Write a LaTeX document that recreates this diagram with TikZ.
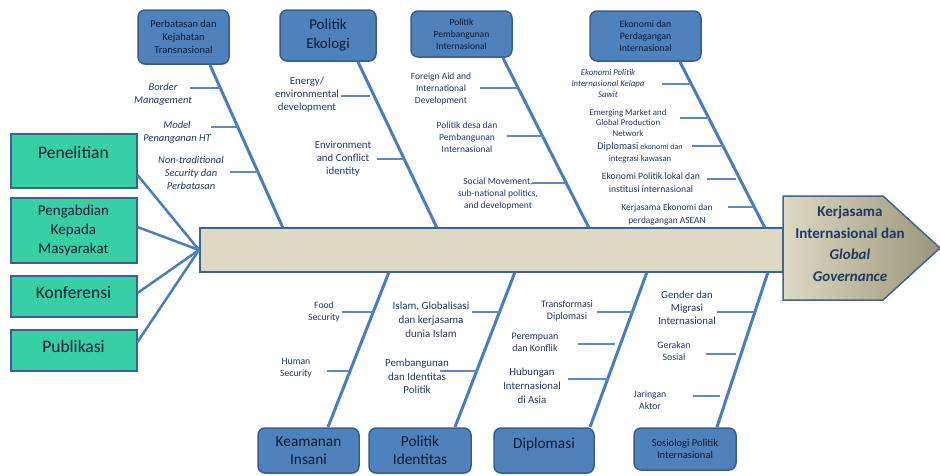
\documentclass[tikz,border=0pt]{standalone}
\usepackage{fontspec}
\setmainfont{Carlito}
\definecolor{navy}{HTML}{1F3864}
\definecolor{boxblue}{HTML}{4F81BD}
\definecolor{boxedge}{HTML}{385D8A}
\definecolor{bonecol}{HTML}{4A7EBB}
\definecolor{tickcol}{HTML}{5A8AC6}
\definecolor{mint}{HTML}{36D0A4}
\definecolor{mintedge}{HTML}{3F5F99}
\definecolor{spinefill}{HTML}{DDD9C3}
\definecolor{spineedge}{HTML}{3E6497}
\definecolor{headdark}{HTML}{9A9679}
\definecolor{boxtext}{HTML}{0F1B33}
\newcommand{\fs}[2]{\fontsize{#1}{#2}\selectfont}
\begin{document}
\begin{tikzpicture}[x=1pt,y=-1pt,
  bbox/.style={draw=boxedge, line width=1.5pt, fill=boxblue, rounded corners=7pt, inner sep=0pt, align=center, text=boxtext},
  gbox/.style={draw=mintedge, line width=2pt, fill=mint, inner sep=0pt},
  gtext/.style={text=boxtext, align=center, inner sep=0pt},
  bonel/.style={draw=bonecol, line width=3pt},
  tickl/.style={draw=tickcol, line width=1.4pt},
  conn/.style={draw=bonecol, line width=2.5pt},
  lbl/.style={text=navy, align=center, inner sep=0pt},
  spinest/.style={draw=spineedge, line width=2pt, fill=spinefill, inner sep=0pt}
]
\useasboundingbox (0,0) rectangle (940,475);

% ---------- top boxes ----------
\node[bbox, minimum width=91, minimum height=54, font=\fs{10.5}{13}] (tb1) at (183.5,37) {Perbatasan dan\\Kejahatan\\Transnasional};
\node[bbox, minimum width=96, minimum height=51, font=\fs{15}{19}] (tb2) at (328,35.5) {Politik\\Ekologi};
\node[bbox, minimum width=101, minimum height=46, font=\fs{9.5}{12}] (tb3) at (461.5,34) {Politik\\Pembangunan\\Internasional};
\node[bbox, minimum width=111, minimum height=50, font=\fs{9.8}{12.3}] (tb4) at (645.5,36) {Ekonomi dan\\Perdagangan\\Internasional};

% ---------- bottom boxes ----------
\node[bbox, minimum width=101, minimum height=45, font=\fs{15.3}{18}] (bb1) at (308.5,450.5) {Keamanan\\Insani};
\node[bbox, minimum width=102, minimum height=45, font=\fs{15.3}{18}] (bb2) at (420,450.5) {Politik\\Identitas};
\node[bbox, minimum width=100, minimum height=45] (bb3) at (544,450.5) {};
\node[gtext, font=\fs{15.3}{18}] (bb3t) at (544,444) {Diplomasi};
\node[bbox, minimum width=102, minimum height=42, font=\fs{10.5}{12.5}] (bb4) at (685,449) {Sosiologi Politik\\Internasional};

% ---------- bone coordinates ----------
\coordinate (b1s) at (210,65);  \coordinate (b1e) at (283,228);
\coordinate (b2s) at (358,62);  \coordinate (b2e) at (437,228);
\coordinate (b3s) at (503,58);  \coordinate (b3e) at (589,228);
\coordinate (b4s) at (680,62);  \coordinate (b4e) at (765,228);
\coordinate (bAs) at (328,427); \coordinate (bAe) at (389,272);
\coordinate (bBs) at (455,427); \coordinate (bBe) at (515,272);
\coordinate (bCs) at (590,427); \coordinate (bCe) at (647,272);
\coordinate (bDs) at (717,427); \coordinate (bDe) at (768,272);

\foreach \b in {1,2,3,4,A,B,C,D} {\draw[bonel] (b\b s) -- (b\b e);}

% ---------- labels on top bones ----------
\node[lbl, font=\itshape\fs{10.5}{13}] (l11) at (163,94.5) {Border\\Management};
\node[lbl, font=\itshape\fs{10.5}{13}] (l12) at (177,132.5) {Model\\Penanganan HT};
\node[lbl, font=\itshape\fs{10.5}{13}] (l13) at (191,172.5) {Non-traditional\\Security dan\\Perbatasan};
\coordinate (t11) at (190,88);  \coordinate (u11) at (220.3,88);
\coordinate (t12) at (211,127); \coordinate (u12) at (237.8,127);
\coordinate (t13) at (230,172); \coordinate (u13) at (257.9,172);

\node[lbl, font=\fs{10.8}{13}] (l21) at (307,95) {Energy/\\environmental\\development};
\node[lbl, font=\fs{10.8}{13}] (l22) at (343,158.5) {Environment\\and Conflict\\identity};
\coordinate (t21) at (341,96);  \coordinate (u21) at (370,96);
\coordinate (t22) at (377,159); \coordinate (u22) at (404.2,159);

\node[lbl, font=\fs{9.5}{12}] (l31) at (441,89) {Foreign Aid and\\International\\Development};
\node[lbl, font=\fs{9.5}{12}] (l32) at (467,137) {Politik desa dan\\Pembangunan\\Internasional};
\node[lbl, font=\fs{9.5}{12}] (l33) at (498,194) {Social Movement,\\sub-national politics,\\and development};
\coordinate (t31) at (480,88);  \coordinate (u31) at (518.2,88);
\coordinate (t32) at (507,136); \coordinate (u32) at (542.5,136);
\coordinate (t33) at (532,183); \coordinate (u33) at (566.2,183);

\node[lbl, font=\itshape\fs{8.8}{11}] (l41) at (608,83) {Ekonomi Politik\\Internasional Kelapa\\Sawit};
\node[lbl, font=\fs{8.8}{10.5}] (l42) at (628,122.5) {Emerging Market and\\Global Production\\Network};
\node[lbl, font=\fs{8.7}{12}] (l43) at (640,153) {{\fs{10.2}{12}Diplomasi} {\fs{8}{12}ekonomi dan}\\integrasi kawasan};
\node[lbl, font=\fs{9.7}{13}] (l44) at (651,182.5) {Ekonomi Politik lokal dan\\institusi internasional};
\node[lbl, font=\fs{9.4}{13}] (l45) at (667,214.5) {Kerjasama Ekonomi dan\\perdagangan ASEAN};
\coordinate (t41) at (662,84);  \coordinate (u41) at (691.3,84);
\coordinate (t42) at (680,118); \coordinate (u42) at (708.7,118);
\coordinate (t43) at (692,146); \coordinate (u43) at (723,146);
\coordinate (t44) at (707,179); \coordinate (u44) at (736,179);
\coordinate (t45) at (728,207); \coordinate (u45) at (754.2,207);

% ---------- labels on bottom bones ----------
\node[lbl, font=\fs{9.7}{12}] (lA1) at (324,312) {Food\\Security};
\node[lbl, font=\fs{9.7}{12}] (lA2) at (296,368) {Human\\Security};
\coordinate (tA1) at (342,312); \coordinate (uA1) at (373.3,312);
\coordinate (tA2) at (327,371); \coordinate (uA2) at (349,371);

\node[lbl, font=\fs{11}{14}] (lB1) at (431,319.5) {Islam, Globalisasi\\dan kerjasama\\dunia Islam};
\node[lbl, font=\fs{10.9}{13.5}] (lB2) at (417,376.5) {Pembangunan\\dan Identitas\\Politik};
\coordinate (tB1) at (472,312); \coordinate (uB1) at (499.5,312);
\coordinate (tB2) at (440,371); \coordinate (uB2) at (478,371);

\node[lbl, font=\fs{10}{12}] (lC1) at (567,311) {Transformasi\\Diplomasi};
\node[lbl, font=\fs{10}{12}] (lC2) at (535,342) {Perempuan\\dan Konflik};
\node[lbl, font=\fs{10.8}{14}] (lC3) at (532,386) {Hubungan\\Internasional\\di Asia};
\coordinate (tC1) at (597,312); \coordinate (uC1) at (632.6,312);
\coordinate (tC2) at (578,344); \coordinate (uC2) at (615,344);
\coordinate (tC3) at (568,379); \coordinate (uC3) at (607.8,379);

\node[lbl, font=\fs{10.8}{13}] (lD1) at (687,308) {Gender dan\\Migrasi\\Internasional};
\node[lbl, font=\fs{9.8}{12}] (lD2) at (674,351) {Gerakan\\Sosial};
\node[lbl, font=\fs{9.7}{12}] (lD3) at (650,400) {Jaringan\\Aktor};
\coordinate (tD1) at (717,312); \coordinate (uD1) at (754,312);
\coordinate (tD2) at (706,354); \coordinate (uD2) at (736,354);
\coordinate (tD3) at (693,396); \coordinate (uD3) at (720,396);

\foreach \t in {11,12,13,21,22,31,32,33,41,42,43,44,45,A1,A2,B1,B2,C1,C2,C3,D1,D2,D3} {\draw[tickl] (t\t) -- (u\t);}

% ---------- spine and head ----------
\node[spinest, minimum width=583, minimum height=44] (spine) at (491.5,250) {};
\path[draw=spineedge, line width=1.5pt, left color=spinefill, right color=headdark]
  (783,196) -- (883,196) -- (940,248) -- (883,300) -- (783,300) -- cycle;
\node[lbl, font=\bfseries\fs{15}{21.5}] (head) at (850,244) {Kerjasama\\Internasional dan\\\textit{Global}\\\textit{Governance}};

% ---------- left boxes ----------
\node[gbox, minimum width=126, minimum height=54] (pen) at (73.5,160.5) {};
\node[gtext, font=\fs{17.5}{19}] (pent) at (73.5,152) {Penelitian};
\node[gbox, minimum width=126, minimum height=65] (pkm) at (73.5,230) {};
\node[gtext, font=\fs{15}{19}] (pkmt) at (73.5,230) {Pengabdian\\Kepada\\Masyarakat};
\node[gbox, minimum width=126, minimum height=41] (konf) at (73.5,296) {};
\node[gtext, font=\fs{17.5}{19}] (konft) at (73.5,293) {Konferensi};
\node[gbox, minimum width=126, minimum height=41] (pub) at (73.5,350) {};
\node[gtext, font=\fs{17.5}{19}] (pubt) at (73.5,346) {Publikasi};

\draw[conn] ([yshift=-14.5pt]pen.east) -- (spine.west);
\draw[conn] ([yshift=3pt]pkm.east) -- (spine.west);
\draw[conn] ([yshift=3pt]konf.east) -- (spine.west);
\draw[conn] ([yshift=8pt]pub.east) -- (spine.west);
\end{tikzpicture}
\end{document}
